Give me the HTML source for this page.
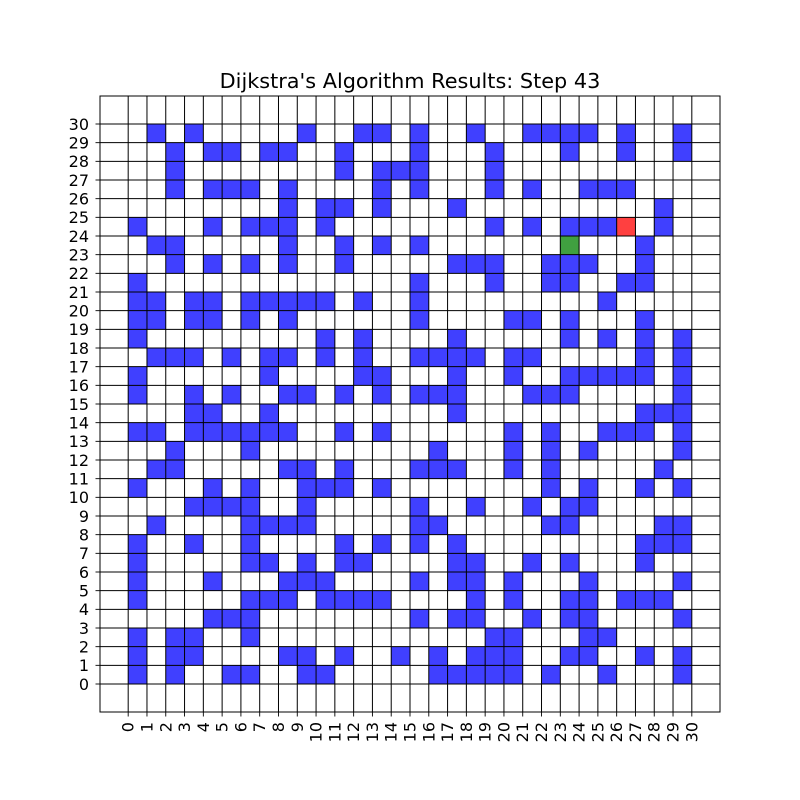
<!DOCTYPE html>
<html><head><meta charset="utf-8">
<style>
html,body{margin:0;padding:0;background:#fff;}
svg{display:block;font-family:"DejaVu Sans","Liberation Sans",sans-serif;}
</style></head>
<body>
<svg id="chart" width="800" height="800" viewBox="0 0 800 800">
<rect width="800" height="800" fill="#fff"/>
<text x="410" y="88" font-size="20.8" text-anchor="middle">Dijkstra's Algorithm Results: Step 43</text>
<g id="cells"></g>
<g id="gridlines"></g>
<g id="ticks"></g>
<rect x="100" y="96" width="620" height="616" fill="none" stroke="#000" stroke-width="1"/>
</svg>
<script>
const rowIds = [29,28,27,26,25,24,23,22,21,20,19,18,17,16,15,14,13,12,11,10,9,8,7,6,5,4,3,2,1,0];
const wallCols = [
 [1,3,9,12,13,15,18,21,22,23,24,26,29],
 [2,4,5,7,8,11,15,19,23,26,29],
 [2,11,13,14,15,19],
 [2,4,5,6,8,13,15,19,21,24,25,26],
 [8,10,11,13,17,28],
 [0,4,6,7,8,10,19,21,23,24,25,28],
 [1,2,8,11,13,15,27],
 [2,4,6,8,11,17,18,19,22,23,24,27],
 [0,15,19,22,23,26,27],
 [0,1,3,4,6,7,8,9,10,12,15,25],
 [0,1,3,4,6,8,15,20,21,23,27],
 [0,10,12,17,23,25,27,29],
 [1,2,3,5,7,8,10,12,15,16,17,18,20,21,27,29],
 [0,7,12,13,17,20,23,24,25,26,27,29],
 [0,3,5,8,9,11,13,15,16,17,21,22,23,29],
 [3,4,7,17,27,28,29],
 [0,1,3,4,5,6,7,8,11,13,20,22,25,26,27,29],
 [2,6,16,20,22,24,29],
 [1,2,8,9,11,15,16,17,20,22,28],
 [0,4,6,9,10,11,13,22,24,27,29],
 [3,4,5,6,9,15,18,21,23,24],
 [1,6,7,8,9,15,16,22,23,28,29],
 [0,3,6,11,13,15,17,27,28,29],
 [0,6,7,9,11,12,17,18,21,23,27],
 [0,4,8,9,10,15,17,18,20,24,29],
 [0,6,7,8,10,11,12,13,18,20,23,24,26,27,28],
 [4,5,6,15,17,18,21,23,24,29],
 [0,2,3,6,19,20,24,25],
 [0,2,3,8,9,11,14,16,18,19,20,23,24,27,29],
 [0,2,5,6,9,10,16,17,18,19,20,22,25,29]
];
const startCell = [23,23];
const targetCell = [26,24];
const xTicks = [0,1,2,3,4,5,6,7,8,9,10,11,12,13,14,15,16,17,18,19,20,21,22,23,24,25,26,27,28,29,30];
const yTicks = [0,1,2,3,4,5,6,7,8,9,10,11,12,13,14,15,16,17,18,19,20,21,22,23,24,25,26,27,28,29,30];

const NS = "http://www.w3.org/2000/svg";
const X0 = 100, X1 = 720, Y0 = 96, Y1 = 712, DMIN = -1.5, DMAX = 31.5;
function sx(v){ return X0 + (v - DMIN) / (DMAX - DMIN) * (X1 - X0); }
function sy(v){ return Y1 - (v - DMIN) / (DMAX - DMIN) * (Y1 - Y0); }
function mk(tag, attrs, parent){
  const e = document.createElementNS(NS, tag);
  for (const k in attrs) e.setAttribute(k, attrs[k]);
  parent.appendChild(e);
  return e;
}
const cells = document.getElementById('cells');
function cell(c, r, color, name){
  const e = mk('rect', {x: sx(c), y: sy(r+1), width: sx(c+1)-sx(c), height: sy(r)-sy(r+1), fill: color}, cells);
  
  
}
rowIds.forEach((r, i) => {
  wallCols[i].forEach(c => cell(c, r, '#4040ff', 'wall-cell'));
});
cell(startCell[0], startCell[1], '#40a040', 'current-cell');
cell(targetCell[0], targetCell[1], '#ff4040', 'target-cell');

const gl = document.getElementById('gridlines');
xTicks.forEach(v => {
  const e = mk('line', {x1: sx(v), x2: sx(v), y1: Y0, y2: Y1, stroke: '#000', 'stroke-width': 1}, gl);
  
  
});
yTicks.forEach(v => {
  const e = mk('line', {x1: X0, x2: X1, y1: sy(v), y2: sy(v), stroke: '#000', 'stroke-width': 1}, gl);
  
  
});

const tk = document.getElementById('ticks');
xTicks.forEach(v => {
  const x = sx(v);
  mk('line', {x1: x, x2: x, y1: Y1, y2: Y1 + 4.5, stroke: '#000', 'stroke-width': 0.9}, tk);
  const t = mk('text', {x: 0, y: 0, 'font-size': 16, 'text-anchor': 'end', 'dominant-baseline': 'central',
    transform: 'translate(' + x + ',' + (Y1 + 10) + ') rotate(-90)'}, tk);
  t.textContent = v;
  
  
});
yTicks.forEach(v => {
  const y = sy(v);
  mk('line', {x1: X0 - 4.5, x2: X0, y1: y, y2: y, stroke: '#000', 'stroke-width': 0.9}, tk);
  const t = mk('text', {x: X0 - 11, y: y + 5.8, 'font-size': 16, 'text-anchor': 'end'}, tk);
  t.textContent = v;
  
  
});
</script>
</body></html>
